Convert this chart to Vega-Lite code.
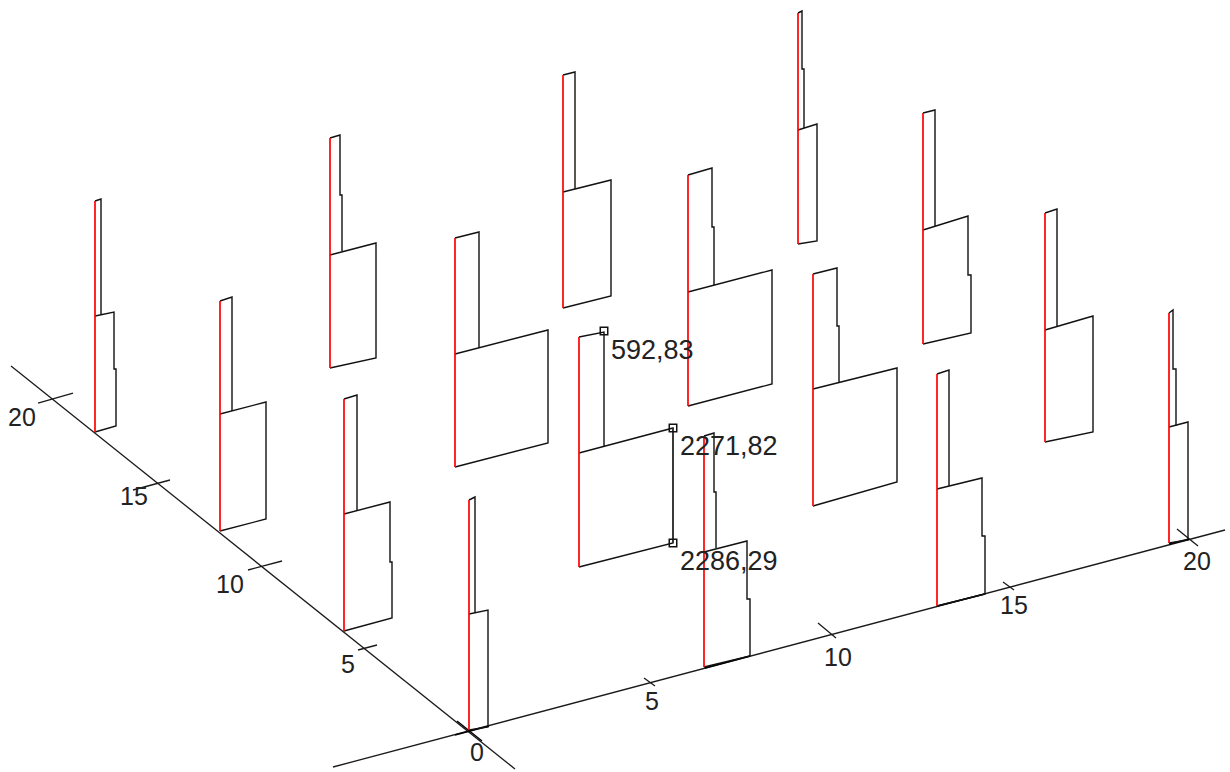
{"$schema":"https://vega.github.io/schema/vega-lite/v6.json","width":1230,"height":772,"padding":0,"autosize":{"type":"fit","contains":"padding"},"background":"white","view":{"stroke":null},
"datasets":{"lines":[
{"p":"ax1","k":"axis","i":0,"x":333,"y":767},{"p":"ax1","k":"axis","i":1,"x":1225,"y":530},
{"p":"ax2","k":"axis","i":0,"x":11,"y":366},{"p":"ax2","k":"axis","i":1,"x":515,"y":769},
{"p":"t0a","k":"bold","i":0,"x":457,"y":721},{"p":"t0a","k":"bold","i":1,"x":482,"y":741},
{"p":"t0b","k":"bold","i":0,"x":455,"y":735},{"p":"t0b","k":"bold","i":1,"x":489,"y":726},
{"p":"b1","k":"bold","i":0,"x":705,"y":668},{"p":"b1","k":"bold","i":1,"x":750,"y":656},
{"p":"b2","k":"bold","i":0,"x":937,"y":606},{"p":"b2","k":"bold","i":1,"x":985,"y":594},
{"p":"b3","k":"bold","i":0,"x":1169,"y":544},{"p":"b3","k":"bold","i":1,"x":1189,"y":539},
{"p":"tx5","k":"axis","i":0,"x":644,"y":678},{"p":"tx5","k":"axis","i":1,"x":655,"y":686},
{"p":"tx10","k":"axis","i":0,"x":818,"y":623},{"p":"tx10","k":"axis","i":1,"x":836,"y":638},
{"p":"tx15","k":"axis","i":0,"x":1003,"y":582},{"p":"tx15","k":"axis","i":1,"x":1014,"y":590},
{"p":"tx20","k":"axis","i":0,"x":1177,"y":529},{"p":"tx20","k":"axis","i":1,"x":1198,"y":546},
{"p":"ty5","k":"axis","i":0,"x":358,"y":650},{"p":"ty5","k":"axis","i":1,"x":377,"y":645},
{"p":"ty10","k":"axis","i":0,"x":248,"y":570},{"p":"ty10","k":"axis","i":1,"x":282,"y":561},
{"p":"ty15","k":"axis","i":0,"x":133,"y":490},{"p":"ty15","k":"axis","i":1,"x":170,"y":480},
{"p":"ty20","k":"axis","i":0,"x":38,"y":403},{"p":"ty20","k":"axis","i":1,"x":73,"y":393},

{"p":"Al","k":"bar","i":0,"x":95,"y":432},{"p":"Al","k":"bar","i":1,"x":116,"y":426},{"p":"Al","k":"bar","i":2,"x":116,"y":369},{"p":"Al","k":"bar","i":3,"x":114,"y":369},{"p":"Al","k":"bar","i":4,"x":114,"y":312},{"p":"Al","k":"bar","i":5,"x":95,"y":316},
{"p":"Au","k":"bar","i":0,"x":101,"y":315},{"p":"Au","k":"bar","i":1,"x":101,"y":199},{"p":"Au","k":"bar","i":2,"x":95,"y":201},
{"p":"Ar","k":"rim","i":0,"x":95,"y":432},{"p":"Ar","k":"rim","i":1,"x":95,"y":201},

{"p":"Bl","k":"bar","i":0,"x":220,"y":531},{"p":"Bl","k":"bar","i":1,"x":266,"y":519},{"p":"Bl","k":"bar","i":2,"x":266,"y":402},{"p":"Bl","k":"bar","i":3,"x":220,"y":414},
{"p":"Bu","k":"bar","i":0,"x":232,"y":411},{"p":"Bu","k":"bar","i":1,"x":232,"y":297},{"p":"Bu","k":"bar","i":2,"x":220,"y":301},
{"p":"Br","k":"rim","i":0,"x":220,"y":531},{"p":"Br","k":"rim","i":1,"x":220,"y":301},

{"p":"Cl","k":"bar","i":0,"x":330,"y":368},{"p":"Cl","k":"bar","i":1,"x":376,"y":358},{"p":"Cl","k":"bar","i":2,"x":376,"y":243},{"p":"Cl","k":"bar","i":3,"x":330,"y":255},
{"p":"Cu","k":"bar","i":0,"x":342,"y":251},{"p":"Cu","k":"bar","i":1,"x":342,"y":195},{"p":"Cu","k":"bar","i":2,"x":340,"y":195},{"p":"Cu","k":"bar","i":3,"x":340,"y":135},{"p":"Cu","k":"bar","i":4,"x":330,"y":138},
{"p":"Cr","k":"rim","i":0,"x":330,"y":368},{"p":"Cr","k":"rim","i":1,"x":330,"y":138},

{"p":"Dl","k":"bar","i":0,"x":344,"y":631},{"p":"Dl","k":"bar","i":1,"x":392,"y":618},{"p":"Dl","k":"bar","i":2,"x":392,"y":562},{"p":"Dl","k":"bar","i":3,"x":390,"y":562},{"p":"Dl","k":"bar","i":4,"x":390,"y":502},{"p":"Dl","k":"bar","i":5,"x":344,"y":514},
{"p":"Du","k":"bar","i":0,"x":357,"y":511},{"p":"Du","k":"bar","i":1,"x":357,"y":395},{"p":"Du","k":"bar","i":2,"x":344,"y":399},
{"p":"Dr","k":"rim","i":0,"x":344,"y":631},{"p":"Dr","k":"rim","i":1,"x":344,"y":399},

{"p":"El","k":"bar","i":0,"x":469,"y":730},{"p":"El","k":"bar","i":1,"x":488,"y":727},{"p":"El","k":"bar","i":2,"x":488,"y":610},{"p":"El","k":"bar","i":3,"x":469,"y":614},
{"p":"Eu","k":"bar","i":0,"x":475,"y":613},{"p":"Eu","k":"bar","i":1,"x":475,"y":497},{"p":"Eu","k":"bar","i":2,"x":469,"y":500},
{"p":"Er","k":"rim","i":0,"x":469,"y":730},{"p":"Er","k":"rim","i":1,"x":469,"y":500},

{"p":"Fl","k":"bar","i":0,"x":455,"y":467},{"p":"Fl","k":"bar","i":1,"x":548,"y":443},{"p":"Fl","k":"bar","i":2,"x":548,"y":330},{"p":"Fl","k":"bar","i":3,"x":455,"y":354},
{"p":"Fu","k":"bar","i":0,"x":479,"y":348},{"p":"Fu","k":"bar","i":1,"x":479,"y":232},{"p":"Fu","k":"bar","i":2,"x":455,"y":238},
{"p":"Fr","k":"rim","i":0,"x":455,"y":467},{"p":"Fr","k":"rim","i":1,"x":455,"y":238},

{"p":"Gl","k":"bar","i":0,"x":563,"y":308},{"p":"Gl","k":"bar","i":1,"x":611,"y":296},{"p":"Gl","k":"bar","i":2,"x":611,"y":180},{"p":"Gl","k":"bar","i":3,"x":563,"y":192},
{"p":"Gu","k":"bar","i":0,"x":575,"y":189},{"p":"Gu","k":"bar","i":1,"x":575,"y":72},{"p":"Gu","k":"bar","i":2,"x":563,"y":75},
{"p":"Gr","k":"rim","i":0,"x":563,"y":308},{"p":"Gr","k":"rim","i":1,"x":563,"y":75},

{"p":"Hl","k":"bar","i":0,"x":579,"y":567},{"p":"Hl","k":"bar","i":1,"x":673,"y":543},{"p":"Hl","k":"bar","i":2,"x":673,"y":428},{"p":"Hl","k":"bar","i":3,"x":579,"y":453},
{"p":"Hu","k":"bar","i":0,"x":604,"y":446},{"p":"Hu","k":"bar","i":1,"x":604,"y":332},{"p":"Hu","k":"bar","i":2,"x":579,"y":337},
{"p":"He","k":"edge","i":0,"x":673,"y":543},{"p":"He","k":"edge","i":1,"x":673,"y":428},
{"p":"Hr","k":"rim","i":0,"x":579,"y":567},{"p":"Hr","k":"rim","i":1,"x":579,"y":337},

{"p":"Il","k":"bar","i":0,"x":704,"y":667},{"p":"Il","k":"bar","i":1,"x":750,"y":656},{"p":"Il","k":"bar","i":2,"x":750,"y":599},{"p":"Il","k":"bar","i":3,"x":747,"y":599},{"p":"Il","k":"bar","i":4,"x":747,"y":541},{"p":"Il","k":"bar","i":5,"x":704,"y":552},
{"p":"Iu","k":"bar","i":0,"x":716,"y":548},{"p":"Iu","k":"bar","i":1,"x":716,"y":492},{"p":"Iu","k":"bar","i":2,"x":714,"y":492},{"p":"Iu","k":"bar","i":3,"x":714,"y":433},{"p":"Iu","k":"bar","i":4,"x":704,"y":436},
{"p":"Ir","k":"rim","i":0,"x":704,"y":667},{"p":"Ir","k":"rim","i":1,"x":704,"y":436},

{"p":"Jl","k":"bar","i":0,"x":688,"y":406},{"p":"Jl","k":"bar","i":1,"x":772,"y":384},{"p":"Jl","k":"bar","i":2,"x":772,"y":270},{"p":"Jl","k":"bar","i":3,"x":688,"y":292},
{"p":"Ju","k":"bar","i":0,"x":714,"y":285},{"p":"Ju","k":"bar","i":1,"x":714,"y":227},{"p":"Ju","k":"bar","i":2,"x":712,"y":227},{"p":"Ju","k":"bar","i":3,"x":712,"y":168},{"p":"Ju","k":"bar","i":4,"x":688,"y":175},
{"p":"Jr","k":"rim","i":0,"x":688,"y":406},{"p":"Jr","k":"rim","i":1,"x":688,"y":175},

{"p":"Kl","k":"bar","i":0,"x":798,"y":244},{"p":"Kl","k":"bar","i":1,"x":817,"y":241},{"p":"Kl","k":"bar","i":2,"x":817,"y":124},{"p":"Kl","k":"bar","i":3,"x":798,"y":130},
{"p":"Ku","k":"bar","i":0,"x":804,"y":128},{"p":"Ku","k":"bar","i":1,"x":804,"y":69},{"p":"Ku","k":"bar","i":2,"x":802,"y":69},{"p":"Ku","k":"bar","i":3,"x":802,"y":11},{"p":"Ku","k":"bar","i":4,"x":798,"y":13},
{"p":"Kr","k":"rim","i":0,"x":798,"y":244},{"p":"Kr","k":"rim","i":1,"x":798,"y":13},

{"p":"Ll","k":"bar","i":0,"x":813,"y":506},{"p":"Ll","k":"bar","i":1,"x":897,"y":482},{"p":"Ll","k":"bar","i":2,"x":897,"y":368},{"p":"Ll","k":"bar","i":3,"x":813,"y":389},
{"p":"Lu","k":"bar","i":0,"x":839,"y":382},{"p":"Lu","k":"bar","i":1,"x":839,"y":326},{"p":"Lu","k":"bar","i":2,"x":837,"y":326},{"p":"Lu","k":"bar","i":3,"x":837,"y":268},{"p":"Lu","k":"bar","i":4,"x":813,"y":274},
{"p":"Lr","k":"rim","i":0,"x":813,"y":506},{"p":"Lr","k":"rim","i":1,"x":813,"y":274},

{"p":"Ml","k":"bar","i":0,"x":923,"y":344},{"p":"Ml","k":"bar","i":1,"x":971,"y":333},{"p":"Ml","k":"bar","i":2,"x":971,"y":275},{"p":"Ml","k":"bar","i":3,"x":968,"y":275},{"p":"Ml","k":"bar","i":4,"x":968,"y":216},{"p":"Ml","k":"bar","i":5,"x":923,"y":230},
{"p":"Mu","k":"bar","i":0,"x":935,"y":226},{"p":"Mu","k":"bar","i":1,"x":935,"y":110},{"p":"Mu","k":"bar","i":2,"x":923,"y":113},
{"p":"Mr","k":"rim","i":0,"x":923,"y":344},{"p":"Mr","k":"rim","i":1,"x":923,"y":113},

{"p":"Nl","k":"bar","i":0,"x":1045,"y":442},{"p":"Nl","k":"bar","i":1,"x":1093,"y":432},{"p":"Nl","k":"bar","i":2,"x":1093,"y":316},{"p":"Nl","k":"bar","i":3,"x":1045,"y":330},
{"p":"Nu","k":"bar","i":0,"x":1057,"y":326},{"p":"Nu","k":"bar","i":1,"x":1057,"y":209},{"p":"Nu","k":"bar","i":2,"x":1045,"y":213},
{"p":"Nr","k":"rim","i":0,"x":1045,"y":442},{"p":"Nr","k":"rim","i":1,"x":1045,"y":213},

{"p":"Ol","k":"bar","i":0,"x":937,"y":606},{"p":"Ol","k":"bar","i":1,"x":985,"y":594},{"p":"Ol","k":"bar","i":2,"x":985,"y":536},{"p":"Ol","k":"bar","i":3,"x":982,"y":536},{"p":"Ol","k":"bar","i":4,"x":982,"y":478},{"p":"Ol","k":"bar","i":5,"x":937,"y":489},
{"p":"Ou","k":"bar","i":0,"x":949,"y":486},{"p":"Ou","k":"bar","i":1,"x":949,"y":370},{"p":"Ou","k":"bar","i":2,"x":937,"y":374},
{"p":"Or","k":"rim","i":0,"x":937,"y":606},{"p":"Or","k":"rim","i":1,"x":937,"y":374},

{"p":"Pl","k":"bar","i":0,"x":1169,"y":543},{"p":"Pl","k":"bar","i":1,"x":1188,"y":540},{"p":"Pl","k":"bar","i":2,"x":1188,"y":422},{"p":"Pl","k":"bar","i":3,"x":1169,"y":427},
{"p":"Pu","k":"bar","i":0,"x":1176,"y":426},{"p":"Pu","k":"bar","i":1,"x":1176,"y":369},{"p":"Pu","k":"bar","i":2,"x":1173,"y":369},{"p":"Pu","k":"bar","i":3,"x":1173,"y":310},{"p":"Pu","k":"bar","i":4,"x":1169,"y":313},
{"p":"Pr","k":"rim","i":0,"x":1169,"y":543},{"p":"Pr","k":"rim","i":1,"x":1169,"y":313}
],
"ticks":[{"x":22,"y":418,"t":"20"},{"x":134,"y":497,"t":"15"},{"x":230,"y":585,"t":"10"},{"x":348,"y":665,"t":"5"},{"x":477,"y":753,"t":"0"},{"x":652,"y":702,"t":"5"},{"x":838,"y":658,"t":"10"},{"x":1014,"y":606,"t":"15"},{"x":1197,"y":562,"t":"20"}],
"values":[{"x":611,"y":351,"t":"592,83"},{"x":680,"y":447,"t":"2271,82"},{"x":680,"y":562,"t":"2286,29"}],
"picks":[{"x":604,"y":331},{"x":673,"y":428},{"x":673,"y":543}]},
"layer":[
{"data":{"name":"lines"},"mark":{"type":"line","strokeCap":"butt","strokeJoin":"miter","clip":false},
"encoding":{"x":{"field":"x","type":"quantitative","scale":{"domain":[0,1230]},"axis":null},"y":{"field":"y","type":"quantitative","scale":{"domain":[772,0]},"axis":null},"detail":{"field":"p"},"order":{"field":"i","type":"quantitative"},
"color":{"field":"k","type":"nominal","scale":{"domain":["axis","bar","bold","edge","rim"],"range":["#1a1a1a","#111111","#000000","#333333","#ff0000"]},"legend":null},
"strokeWidth":{"field":"k","type":"ordinal","scale":{"domain":["axis","bar","bold","edge","rim"],"range":[1.3,1.7,2.6,2.2,1.7]},"legend":null}}},
{"data":{"name":"picks"},"mark":{"type":"point","shape":"square","size":56,"filled":false,"stroke":"#111111","strokeWidth":1.5,"opacity":1},
"encoding":{"x":{"field":"x","type":"quantitative","scale":{"domain":[0,1230]},"axis":null},"y":{"field":"y","type":"quantitative","scale":{"domain":[772,0]},"axis":null}}},
{"data":{"name":"ticks"},"mark":{"type":"text","font":"Liberation Sans","fontSize":25,"align":"center","baseline":"middle","color":"#222222"},
"encoding":{"x":{"field":"x","type":"quantitative","scale":{"domain":[0,1230]},"axis":null},"y":{"field":"y","type":"quantitative","scale":{"domain":[772,0]},"axis":null},"text":{"field":"t"}}},
{"data":{"name":"values"},"mark":{"type":"text","font":"Liberation Sans","fontSize":27,"align":"left","baseline":"middle","color":"#222222"},
"encoding":{"x":{"field":"x","type":"quantitative","scale":{"domain":[0,1230]},"axis":null},"y":{"field":"y","type":"quantitative","scale":{"domain":[772,0]},"axis":null},"text":{"field":"t"}}}
]}
